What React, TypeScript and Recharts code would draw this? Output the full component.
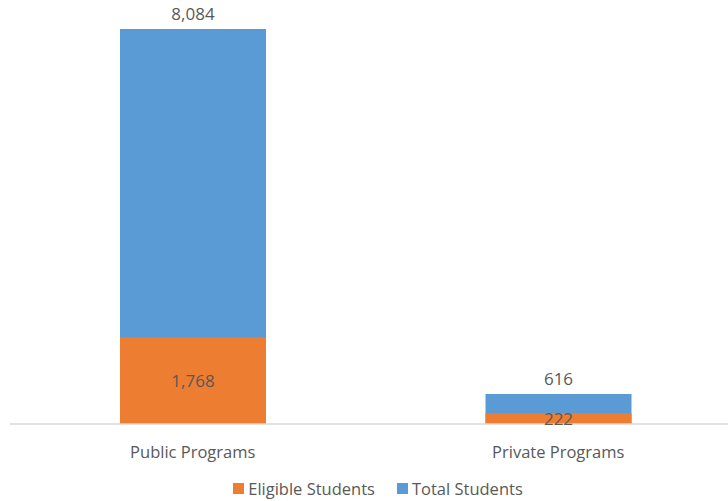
import { BarChart, Bar, XAxis, YAxis, Legend, LabelList } from 'recharts'

const categories = ['Public Programs', 'Private Programs']
const eligibleStudents = [1768, 222]
const totalStudents = [8084, 616]

const data = categories.map((name, i) => ({
  name,
  eligible: eligibleStudents[i],
  total: totalStudents[i],
}))

const ORANGE = '#ED7D31'
const BLUE = '#5B9BD5'
const TEXT = '#595959'
const FONT = '"Open Sans", sans-serif'

const fmt = (v: any) => Number(v).toLocaleString('en-US')

function LegendContent() {
  const items = [
    { label: 'Eligible Students', color: ORANGE },
    { label: 'Total Students', color: BLUE },
  ]
  return (
    <div
      style={{
        width: 728,
        display: 'flex',
        justifyContent: 'center',
        gap: 22,
        fontFamily: FONT,
        fontSize: 16.5,
        color: TEXT,
        paddingTop: 6,
        paddingLeft: 4,
      }}
    >
      {items.map((it) => (
        <div key={it.label} style={{ display: 'flex', alignItems: 'center' }}>
          <span style={{ width: 11, height: 11, background: it.color, marginRight: 4, display: 'inline-block' }} />
          <span>{it.label}</span>
        </div>
      ))}
    </div>
  )
}

export default function App() {
  return (
    <div style={{ position: 'absolute', left: 0, top: 0, width: 728, height: 501, overflow: 'hidden', background: '#fff' }}>
      <BarChart
        width={760}
        height={501}
        data={data}
        margin={{ top: 29, right: 19, left: 10, bottom: 0 }}
        barSize={146}
      >
        <XAxis
          xAxisId="main"
          dataKey="name"
          axisLine={{ stroke: '#D9D9D9', strokeWidth: 1.5 }}
          tickLine={false}
          height={47}
          tick={{ fill: TEXT, fontSize: 16.5, fontFamily: FONT }}
          dy={14}
        />
        <XAxis xAxisId="back" dataKey="name" hide height={0} />
        <YAxis hide domain={[0, 8084]} />
        <Legend verticalAlign="bottom" height={30} content={() => <LegendContent />} />
        <Bar xAxisId="back" dataKey="total" fill={BLUE} isAnimationActive={false}>
          <LabelList dataKey="total" position="top" offset={9} formatter={fmt} fill={TEXT} fontSize={17} fontFamily={FONT} />
        </Bar>
        <Bar xAxisId="main" dataKey="eligible" fill={ORANGE} isAnimationActive={false}>
          <LabelList dataKey="eligible" position="center" formatter={fmt} fill={TEXT} fontSize={17} fontFamily={FONT} />
        </Bar>
      </BarChart>
    </div>
  )
}
